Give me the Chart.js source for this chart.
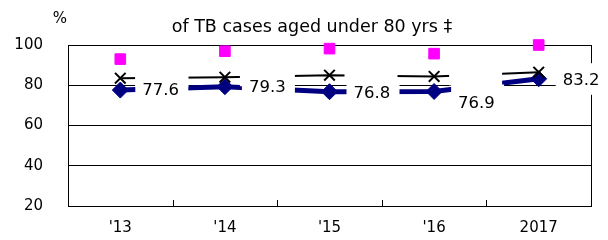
<!DOCTYPE html>
<html>
<head>
<meta charset="utf-8">
<script src="https://cdn.jsdelivr.net/npm/chart.js@4.4.1/dist/chart.umd.min.js"></script>
<style>
  body { margin: 0; background: #fff; }
  canvas { display: block; }
</style>
</head>
<body>
<canvas id="tbChart" width="608" height="240"></canvas>
<script>
// years on the x axis
const years = ["'13", "'14", "'15", "'16", "2017"];
// values (%)
const crossValues = [83.5, 84.0, 85.0, 84.4, 86.5];
const diamondValues = [77.6, 79.3, 76.8, 76.9, 83.2];
const squareValues = [93.0, 96.9, 98.2, 95.7, 100.0];
const yTicks = [20, 40, 60, 80, 100];

const FONT = 'DejaVu Sans';
// where each diamond label sits relative to its point (dx, dy)
const labelNudge = [[22, 0], [24, 0], [24, 1], [24, 11], [24, 1]];

// white label boxes like the excel data labels, they hide the lines behind them
const labelBoxes = {
    id: 'labelBoxes',
    beforeDatasetsDraw(chart) {
        const ctx = chart.ctx;
        const area = chart.chartArea;
        ctx.save();
        ctx.strokeStyle = '#000';
        ctx.lineWidth = 1;
        // right frame line
        ctx.beginPath();
        ctx.moveTo(area.right + 0.5, area.top);
        ctx.lineTo(area.right + 0.5, area.bottom);
        ctx.stroke();
        // little tick marks between the categories, pointing up
        const xs = chart.scales.x;
        for (let i = 1; i < years.length; i++) {
            const px = Math.round((xs.getPixelForTick(i - 1) + xs.getPixelForTick(i)) / 2) + 0.5;
            ctx.beginPath();
            ctx.moveTo(px, area.bottom);
            ctx.lineTo(px, area.bottom - 6);
            ctx.stroke();
        }
        ctx.restore();
    },
    afterDatasetsDraw(chart) {
        const ctx = chart.ctx;
        const crossMeta = chart.getDatasetMeta(0);
        const diaMeta = chart.getDatasetMeta(1);
        ctx.save();
        ctx.fillStyle = '#fff';
        crossMeta.data.forEach(pt => {
            ctx.fillRect(pt.x + 15, pt.y - 9, 53, 18);
        });
        diaMeta.data.forEach((pt, i) => {
            const [dx, dy] = labelNudge[i];
            // a label pushed below its point still hides a bit above the point
            const top = dy > 5 ? pt.y - 7 : pt.y + dy - 15;
            const bottom = pt.y + dy + 15;
            ctx.fillRect(pt.x + dx - 7, top, 53, bottom - top);
        });
        ctx.fillStyle = '#000';
        ctx.font = '16.5px "' + FONT + '"';
        ctx.textAlign = 'left';
        ctx.textBaseline = 'middle';
        diaMeta.data.forEach((pt, i) => {
            const [dx, dy] = labelNudge[i];
            ctx.fillText(diamondValues[i].toFixed(1), pt.x + dx, pt.y + dy + 1);
        });
        ctx.restore();
    },
    afterDraw(chart) {
        const ctx = chart.ctx;
        ctx.save();
        ctx.fillStyle = '#000';
        ctx.textBaseline = 'middle';
        ctx.textAlign = 'center';
        ctx.font = '17.5px "' + FONT + '"';
        ctx.fillText('of TB cases aged under 80 yrs \u2021', 312, 27);
        ctx.font = '15px "' + FONT + '"';
        ctx.fillText('%', 60, 19);
        ctx.restore();
    }
};

const ctx = document.getElementById('tbChart').getContext('2d');
const tbChart = new Chart(ctx, {
    type: 'line',
    data: {
        labels: years,
        datasets: [
            {
                label: 'cross',
                data: crossValues,
                borderColor: '#000',
                borderWidth: 2,
                pointStyle: 'crossRot',
                pointRadius: 7.5,
                pointBorderWidth: 2,
                pointBorderColor: '#000',
                tension: 0,
                clip: false,
            },
            {
                label: 'diamond',
                data: diamondValues,
                borderColor: '#000080',
                borderWidth: 5,
                pointStyle: 'rectRot',
                pointRadius: 8,
                pointBorderWidth: 1,
                pointBackgroundColor: '#000080',
                pointBorderColor: '#000080',
                tension: 0,
                clip: false,
            },
            {
                label: 'square',
                data: squareValues,
                showLine: false,
                pointStyle: 'rect',
                pointRadius: 7.5,
                pointBorderWidth: 1,
                pointBackgroundColor: '#ff00ff',
                pointBorderColor: '#ff00ff',
                clip: false,
            }
        ]
    },
    options: {
        responsive: false,
        animation: false,
        layout: { padding: { left: 0, right: 17, top: 45, bottom: 0 } },
        plugins: {
            legend: { display: false },
            tooltip: { enabled: false },
            title: { display: false }
        },
        scales: {
            x: {
                offset: true,
                grid: { display: false, drawTicks: false },
                border: { display: true, color: '#000', width: 1 },
                ticks: { color: '#000', font: { family: FONT, size: 15 }, padding: 13 },
                afterFit(scale) { scale.height = 34; }
            },
            y: {
                min: 20,
                max: 100,
                afterBuildTicks(scale) { scale.ticks = yTicks.map(v => ({ value: v })); },
                grid: { color: '#000', lineWidth: 1, drawTicks: false },
                border: { display: true, color: '#000', width: 1 },
                ticks: { color: '#000', font: { family: FONT, size: 15 }, padding: 25 },
                afterFit(scale) { scale.width = 68; }
            }
        }
    },
    plugins: [labelBoxes]
});
</script>
</body>
</html>
